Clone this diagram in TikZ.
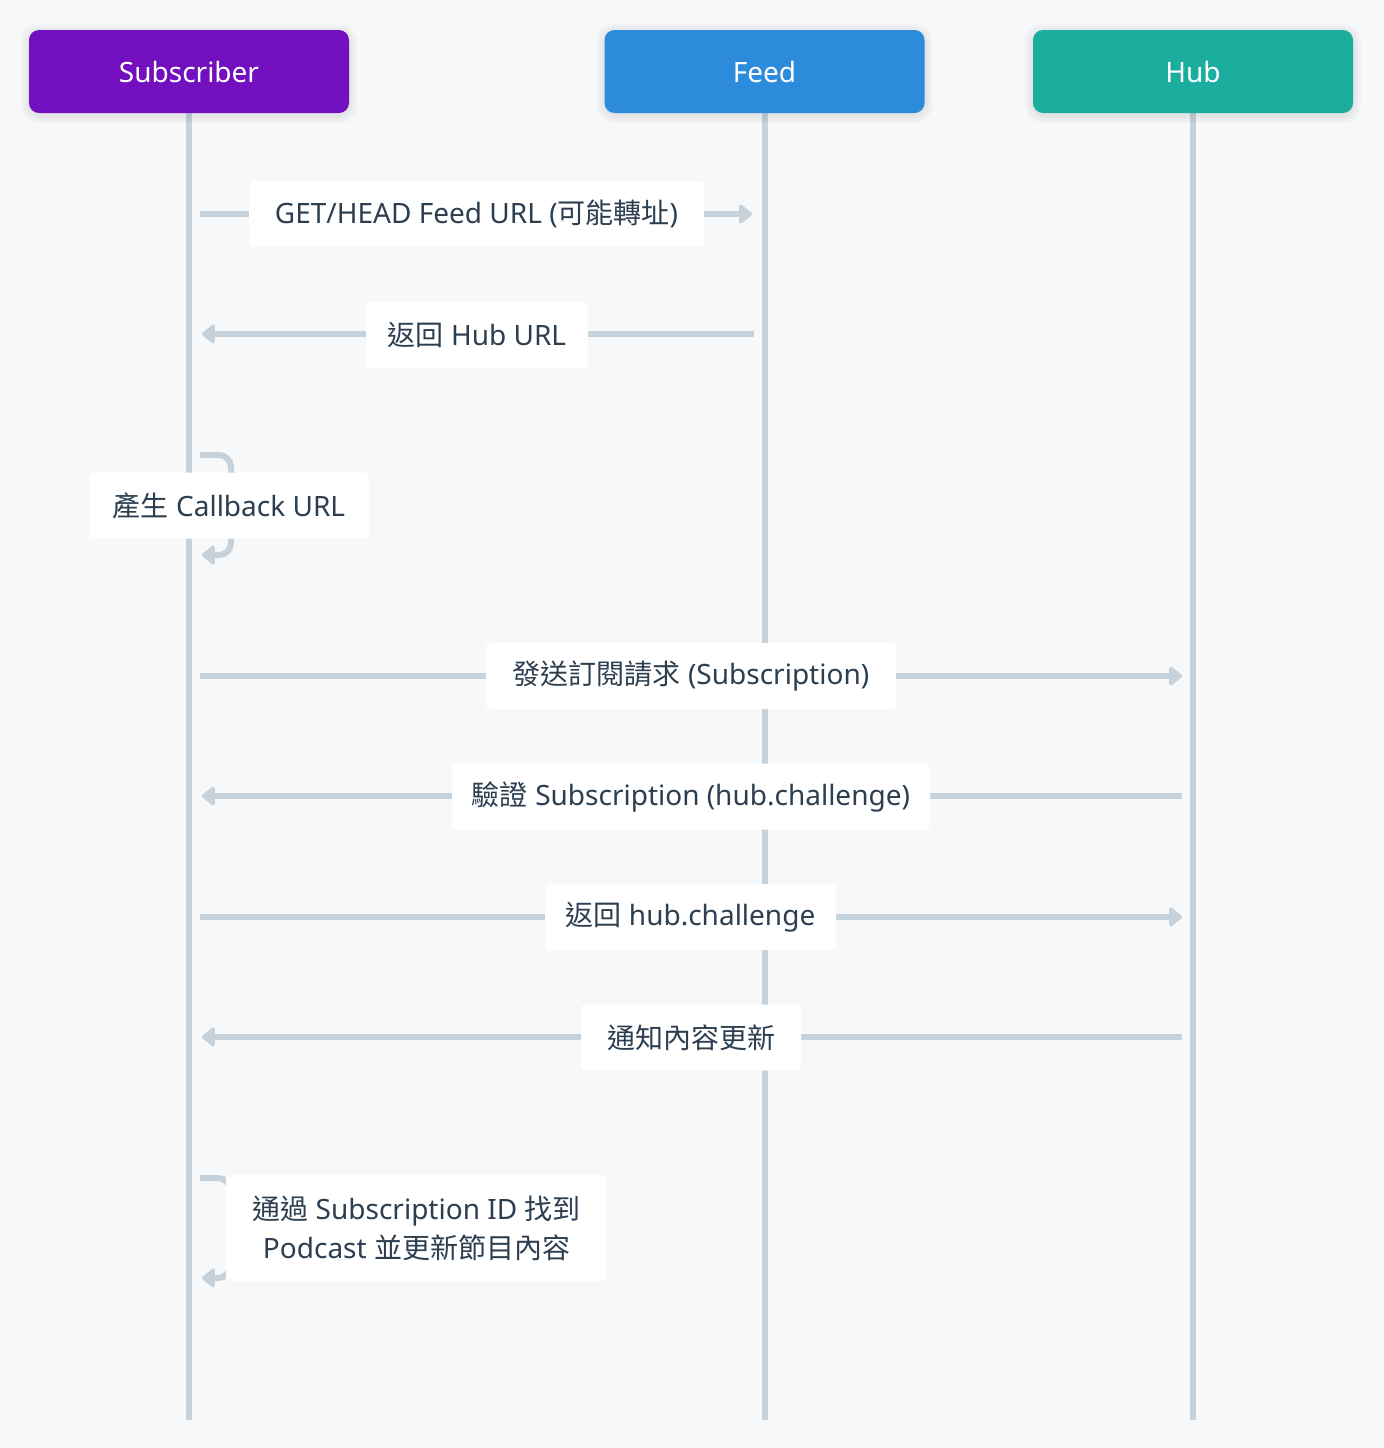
\documentclass[tikz,border=0pt]{standalone}
\usepackage{fontspec}
\setmainfont{Noto Sans}
\newfontfamily\cjk{Noto Sans CJK TC}
\usetikzlibrary{arrows.meta}
\definecolor{bgc}{HTML}{F7F8FA}
\definecolor{linec}{HTML}{C5D2DC}
\definecolor{txtc}{HTML}{2C3E50}
\definecolor{subc}{HTML}{7210C0}
\definecolor{feedc}{HTML}{2D8BDB}
\definecolor{hubc}{HTML}{1BAE9F}
\tikzset{
  actor/.style={rounded corners=5pt, minimum width=160pt, minimum height=41.5pt,
    text=white, font=\fontsize{14pt}{16pt}\selectfont},
  softshadow/.style={fill=black, fill opacity=0.018, rounded corners=#1},
  life/.style={draw=linec, line width=3pt},
  msg/.style={draw=linec, line width=3pt, -{Triangle[length=7pt,width=11pt,round]}},
  lbl/.style={fill=white, rounded corners=2pt, text=txtc, inner xsep=0pt,
    minimum height=33pt, font=\fontsize{14pt}{19.5pt}\selectfont},
}
\begin{document}
\begin{tikzpicture}[x=0.5pt,y=-0.5pt]
\fill[bgc] (0,0) rectangle (1384,1448);
\useasboundingbox (0,0) rectangle (1384,1448);
% lifelines
\coordinate (subEnd) at (189,1420);
\coordinate (feedEnd) at (765,1420);
\coordinate (hubEnd) at (1193,1420);
\draw[life] (189,110) -- (subEnd);
\draw[life] (765,110) -- (feedEnd);
\draw[life] (1193,110) -- (hubEnd);
% soft shadows behind actors
\foreach \cx in {189,764.5,1193}{
  \foreach \d in {2,4,6,8}{
    \fill[softshadow=8pt] (\cx-160-\d,30-\d+2) rectangle (\cx+160+\d,113+\d+2);
  }
}
% actors
\node[actor, fill=subc] (sub) at (189,71.5) {Subscriber};
\node[actor, fill=feedc] (feed) at (764.5,71.5) {Feed};
\node[actor, fill=hubc] (hub) at (1193,71.5) {Hub};
% message endpoints
\coordinate (m1a) at (200,214);  \coordinate (m1b) at (752,214);
\coordinate (m2a) at (754,334);  \coordinate (m2b) at (202,334);
\coordinate (m3a) at (200,455);  \coordinate (m3b) at (202,555);
\coordinate (m4a) at (200,676);  \coordinate (m4b) at (1182,676);
\coordinate (m5a) at (1182,796); \coordinate (m5b) at (202,796);
\coordinate (m6a) at (200,917);  \coordinate (m6b) at (1182,917);
\coordinate (m7a) at (1182,1037);\coordinate (m7b) at (202,1037);
\coordinate (m8a) at (200,1178); \coordinate (m8b) at (202,1278);
% messages
\draw[msg] (m1a) -- (m1b);
\draw[msg] (m2a) -- (m2b);
\draw[msg, rounded corners=6pt] (m3a) -- (231,455) -- (231,555) -- (m3b);
\draw[msg] (m4a) -- (m4b);
\draw[msg] (m5a) -- (m5b);
\draw[msg] (m6a) -- (m6b);
\draw[msg] (m7a) -- (m7b);
\draw[msg, rounded corners=6pt] (m8a) -- (230,1178) -- (230,1278) -- (m8b);
% labels
\node[lbl, minimum width=227.5pt] (l1) at (476.5,214) {GET/HEAD Feed URL ({\cjk 可能轉址})};
\node[lbl, minimum width=111pt] (l2) at (477,334.5) {{\cjk 返回} Hub URL};
\node[lbl, minimum width=140pt] (l3) at (229,505.5) {{\cjk 產生} Callback URL};
\node[lbl, minimum width=205pt] (l4) at (691,676) {{\cjk 發送訂閱請求} (Subscription)};
\node[lbl, minimum width=239pt] (l5) at (691,796.5) {{\cjk 驗證} Subscription (hub.challenge)};
\node[lbl, minimum width=145.5pt] (l6) at (690.5,917) {{\cjk 返回} hub.challenge};
\node[lbl, minimum width=110pt] (l7) at (691,1037.5) {{\cjk 通知內容更新}};
\node[lbl, minimum width=190.5pt, minimum height=53pt, align=center] (l8) at (416.5,1228) {{\cjk 通過} Subscription ID {\cjk 找到}\\Podcast {\cjk 並更新節目內容}};
\end{tikzpicture}
\end{document}
